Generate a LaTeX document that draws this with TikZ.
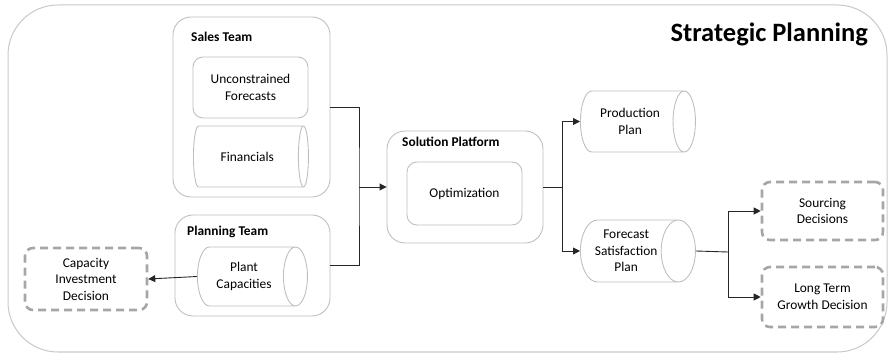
\documentclass[tikz,border=0pt]{standalone}
\usepackage{fontspec}
\setmainfont{Carlito}
\usetikzlibrary{arrows.meta,shapes.geometric}
\definecolor{boxgrey}{RGB}{191,191,191}
\definecolor{dashgrey}{RGB}{166,166,166}
\definecolor{framegrey}{RGB}{200,200,200}

\begin{document}
\begin{tikzpicture}[x=1pt,y=-1pt,
  every node/.style={font=\fontsize{13.4}{16.5}\selectfont,align=center,inner sep=2pt},
  grp/.style={draw=boxgrey,line width=0.9pt,rounded corners=18pt},
  item/.style={draw=boxgrey,line width=0.9pt,rounded corners=10pt,minimum width=115pt,minimum height=61pt},
  store/.style={draw=boxgrey,line width=0.9pt,cylinder,aspect=0.75,minimum height=115pt,minimum width=61pt,anchor=west},
  outcome/.style={draw=dashgrey,line width=2.6pt,dash pattern=on 8pt off 5pt,rounded corners=8pt,minimum width=121pt,minimum height=59pt},
  lbl/.style={font=\fontsize{13.4}{16.5}\selectfont\bfseries,anchor=west},
  link/.style={line width=0.9pt,draw=black!85},
  tip/.style={link,-{Triangle[length=7pt,width=7pt]}}]
  \useasboundingbox (0,0) rectangle (889,355);
  \draw[framegrey,line width=1pt,rounded corners=50pt] (8,5) rectangle (887,352);
  \node[font=\fontsize{26.5}{30}\selectfont\bfseries,anchor=east] (title) at (870,34) {Strategic Planning};

  \node[grp,minimum width=157pt,minimum height=180pt] (sales) at (251.5,107) {};
  \node[lbl] (salesl) at (189,37) {Sales Team};
  \node[item] (unc) at (250.5,87.5) {Unconstrained\\Forecasts};
  \node[store] (fin) at (193,156.5) {Financials};

  \node[grp,minimum width=155pt,minimum height=101pt] (planteam) at (252.5,265.5) {};
  \node[lbl] (planl) at (185,232) {Planning Team};
  \node[store,minimum height=110pt,minimum width=59pt] (cap) at (197,276.5) {Plant\\Capacities};
  \node[outcome,minimum width=122pt,minimum height=62pt] (capinv) at (86,279) {Capacity\\Investment\\Decision};

  \node[grp,minimum width=156pt,minimum height=112pt] (solution) at (465,187) {};
  \node[lbl] (soll) at (400,142) {Solution Platform};
  \node[item,minimum height=63pt] (opt) at (464.5,193.5) {Optimization};

  \node[store] (prod) at (580,121.5) {Production\\Plan};
  \node[store,minimum width=62pt] (fsp) at (580,251) {Forecast\\Satisfaction\\Plan};

  \node[outcome,minimum height=58pt] (sourcing) at (822.5,211) {Sourcing\\Decisions};
  \node[outcome,minimum height=60pt] (longterm) at (822.5,297) {Long Term\\Growth Decision};

  \coordinate (jl) at (359,187);
  \coordinate (jr) at (562,187);
  \coordinate (jf) at (728,252);
  \draw[link] (sales.east) -| (jl) |- (planteam.east);
  \draw[tip] (jl) -- (solution.west);
  \draw[link] (solution.east) -- (jr);
  \draw[tip] (jr) |- (prod.west);
  \draw[tip] (jr) |- (fsp.west);
  \draw[link] (fsp.east) -- (jf);
  \draw[tip] (jf) |- (sourcing.west);
  \draw[tip] (jf) |- (longterm.west);
  \draw[tip] (cap.west) -- (capinv.east);
\end{tikzpicture}
\end{document}
